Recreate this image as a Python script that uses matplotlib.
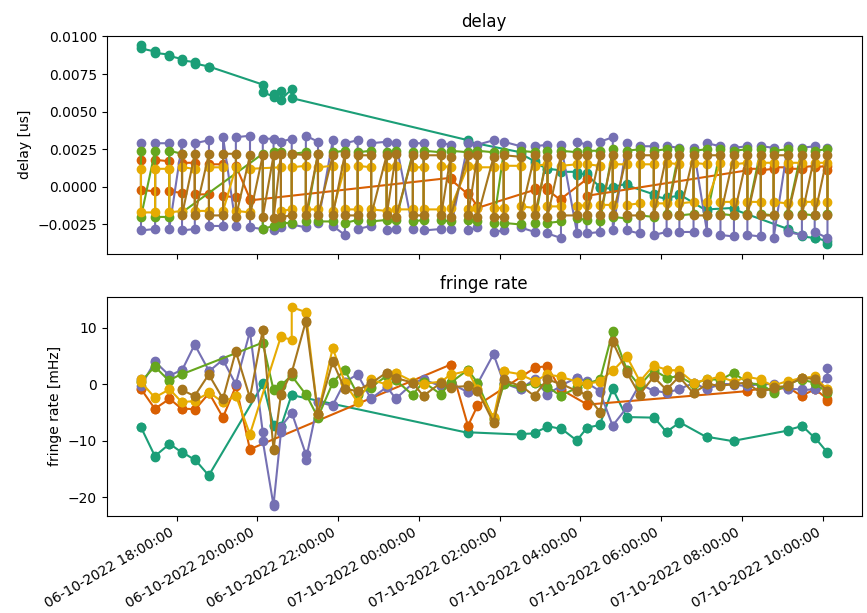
import numpy as np
import pandas as pd
import matplotlib
matplotlib.use("Agg")
import matplotlib.pyplot as plt
import matplotlib.dates as mdates
from matplotlib.ticker import MultipleLocator

# scan times (one per solution interval)
scan_times = pd.to_datetime([
    "2022-10-06 17:07", "2022-10-06 17:28", "2022-10-06 17:49", "2022-10-06 18:08",
    "2022-10-06 18:27", "2022-10-06 18:48", "2022-10-06 19:09", "2022-10-06 19:28",
    "2022-10-06 19:49", "2022-10-06 20:08", "2022-10-06 20:24", "2022-10-06 20:35",
    "2022-10-06 20:51", "2022-10-06 21:12", "2022-10-06 21:30", "2022-10-06 21:52",
    "2022-10-06 22:10", "2022-10-06 22:29", "2022-10-06 22:49", "2022-10-06 23:12",
    "2022-10-06 23:26", "2022-10-06 23:51", "2022-10-07 00:07", "2022-10-07 00:33",
    "2022-10-07 00:47", "2022-10-07 01:13", "2022-10-07 01:27", "2022-10-07 01:51",
    "2022-10-07 02:06", "2022-10-07 02:31", "2022-10-07 02:52", "2022-10-07 03:11",
    "2022-10-07 03:31", "2022-10-07 03:55", "2022-10-07 04:09", "2022-10-07 04:29",
    "2022-10-07 04:48", "2022-10-07 05:09", "2022-10-07 05:28", "2022-10-07 05:49",
    "2022-10-07 06:08", "2022-10-07 06:27", "2022-10-07 06:48", "2022-10-07 07:08",
    "2022-10-07 07:28", "2022-10-07 07:48", "2022-10-07 08:08", "2022-10-07 08:28",
    "2022-10-07 08:47", "2022-10-07 09:08", "2022-10-07 09:29", "2022-10-07 09:48",
    "2022-10-07 10:07",
])

colors = ["#1b9e77", "#d95f02", "#7570b3", "#66a61e", "#e6ab02", "#a6761d"]

# each station: scan indices, then two values per scan (delay [us], fringe rate [mHz])
idx_teal = [0, 1, 2, 3, 4, 5, 9, 10, 11, 12, 25, 29, 30, 31, 32, 33, 34, 35, 36, 37,
            39, 40, 41, 43, 45, 49, 50, 51, 52]
delay_teal = [0.0094, 0.0092, 0.0090, 0.0089, 0.0088, 0.0087, 0.0085, 0.0084, 0.0083, 0.0082,
              0.0080, 0.0080, 0.0068, 0.0063, 0.0060, 0.0062, 0.0064, 0.0058, 0.0065, 0.0059,
              0.0031, 0.0030, 0.0023, 0.0022, 0.0017, 0.0016, 0.0012, 0.0012, 0.0011, 0.0010,
              0.0010, 0.0008, 0.0009, 0.0008, 0.0000, -0.0001, -0.0001, 0.0000, 0.0002, 0.0001,
              -0.0005, -0.0006, -0.0008, -0.0007, -0.0006, -0.0005, -0.0016, -0.0015, -0.0014, -0.0015,
              -0.0028, -0.0029, -0.0032, -0.0033, -0.0034, -0.0034, -0.0036, -0.0038]
fringe_teal = [-7.5, -7.6, -12.8, -12.7, -10.6, -10.5, -12.1, -12.0, -13.4, -13.3,
               -16.2, -16.1, 0.0, 0.2, -7.4, -7.2, -7.4, -7.5, -1.8, -1.9,
               -8.6, -8.5, -8.9, -8.8, -8.7, -8.6, -7.5, -7.4, -7.9, -7.8,
               -10.0, -9.9, -7.8, -7.7, -7.2, -7.1, -0.7, -0.8, -5.9, -5.8,
               -5.9, -5.8, -8.5, -8.4, -6.8, -6.7, -9.4, -9.3, -10.1, -10.0,
               -8.2, -8.1, -7.4, -7.3, -9.5, -9.4, -12.1, -12.0]

idx_orange = [0, 1, 2, 3, 4, 5, 6, 7, 8, 24, 25, 26, 30, 31, 32, 34, 46, 47, 48, 49, 50, 51, 52]
delay_orange = [0.0018, -0.0002, -0.0003, 0.0018, 0.0017, -0.0003, -0.0004, 0.0016, 0.0016, -0.0005,
                -0.0005, 0.0015, 0.0015, -0.0006, -0.0007, 0.0014, -0.0008, -0.0009,
                0.0006, 0.0005, -0.0005, -0.0004, -0.0013, -0.0014,
                -0.0002, -0.0001, 0.0000, -0.0002, -0.0009, -0.0008, 0.0005, -0.0006,
                0.0011, 0.0012, 0.0012, 0.0011, 0.0012, 0.0013, 0.0013, 0.0012, 0.0012, 0.0013,
                0.0014, 0.0013, 0.0014, 0.0011]
fringe_orange = [-0.9, -0.8, -4.4, -4.3, -2.6, -2.5, -4.4, -4.3, -4.4, -4.5,
                 -1.6, -1.5, -5.9, -5.8, -0.3, -0.2, -11.6, -11.5,
                 3.5, 3.4, -7.4, -7.3, -3.8, -3.7,
                 2.9, 3.0, 3.2, 3.1, -1.0, -0.9, -3.5, -3.6,
                 -1.2, -1.1, -0.8, -0.7, -1.0, -0.9, -0.6, -0.5, -2.1, -2.0,
                 -0.9, -0.8, -2.6, -2.9]

idx_purple = list(range(53))
delay_purple = [0.0029, -0.0029, -0.0028, 0.0029, 0.0029, -0.0028, 0.0029, -0.0029, -0.0028, 0.0029,
                0.0031, -0.0026, -0.0026, 0.0033, -0.0026, 0.0033, 0.0034, -0.0027, -0.0028, 0.0032,
                0.0032, -0.0029, -0.0027, 0.0030, 0.0032, -0.0025, -0.0027, 0.0034, 0.0030, -0.0024,
                0.0031, -0.0026, -0.0032, 0.0029, 0.0031, -0.0028, -0.0026, 0.0029, 0.0030, -0.0029,
                -0.0028, 0.0029, -0.0028, 0.0029, 0.0029, -0.0029, -0.0028, 0.0029, 0.0028, -0.0028,
                0.0029, -0.0029, -0.0027, 0.0028, 0.0031, -0.0030, -0.0029, 0.0030, 0.0027, -0.0027,
                -0.0030, 0.0027, 0.0028, -0.0031, -0.0034, 0.0028, -0.0031, 0.0030, 0.0028, -0.0031,
                -0.0030, 0.0030, 0.0033, -0.0029, 0.0029, -0.0029, -0.0031, 0.0027, 0.0027, -0.0032,
                -0.0030, 0.0027, 0.0026, -0.0030, -0.0030, 0.0026, -0.0030, 0.0029, 0.0027, -0.0032,
                -0.0033, 0.0026, 0.0027, -0.0032, -0.0033, 0.0027, 0.0026, -0.0034, 0.0027, -0.0030,
                -0.0032, 0.0026, 0.0027, -0.0030, -0.0034, 0.0026]
fringe_purple = [0.9, -0.3, 4.1, 4.0, 1.6, 1.5, 2.6, 2.5, 7.1, 7.0,
                 2.4, 2.3, 4.4, 4.3, 0.0, 0.1, 9.4, 9.3, -8.5, -10.0,
                 -21.5, -21.3, -8.5, -7.5, -5.1, -5.0, -12.4, -13.4, -3.2, -3.1,
                 -3.8, -3.7, 0.5, 0.4, 1.8, 1.7, -2.6, -2.5, -0.5, -0.4,
                 -2.6, -2.5, 0.2, 0.3, 0.9, 0.8, -0.3, -0.2, 0.3, 0.2,
                 -1.4, -1.3, 0.0, 0.1, 5.4, 5.3, 0.3, 0.2, -0.9, -0.8,
                 0.9, 0.8, -1.8, -1.7, -0.3, -0.2, 1.2, 1.1, 0.6, 0.3,
                 -1.2, -1.4, -7.4, -7.3, -4.1, -4.0, 0.0, 0.1, -1.2, -1.1,
                 -1.5, -1.4, -0.9, -0.8, 0.2, 0.3, -0.9, -0.8, 0.0, 0.1,
                 0.0, -0.1, -0.3, -0.2, 0.0, 0.1, 0.0, -0.1, -0.9, -0.8,
                 -0.9, -1.0, -0.9, -0.8, 1.2, 2.9]

idx_green = [0, 1, 2, 3] + list(range(9, 53))
delay_green = [0.0024, -0.0020, 0.0024, -0.0020, -0.0020, 0.0024, 0.0022, -0.0017,
               0.0022, -0.0028, -0.0026, 0.0023, 0.0023, -0.0024, -0.0024, 0.0022, 0.0023, -0.0023,
               0.0022, -0.0023, -0.0023, 0.0023, 0.0024, -0.0024, -0.0022, 0.0023, 0.0024, -0.0023,
               -0.0022, 0.0023, 0.0024, -0.0022, 0.0023, -0.0023, -0.0022, 0.0024, 0.0023, -0.0022,
               -0.0023, 0.0024, 0.0023, -0.0022, -0.0023, 0.0024, 0.0023, -0.0024, 0.0023, -0.0024,
               -0.0025, 0.0024, 0.0023, -0.0024, 0.0024, -0.0024, -0.0023, 0.0024, 0.0023, -0.0021,
               -0.0022, 0.0024, 0.0024, -0.0023, 0.0025, -0.0020, -0.0021, 0.0024, 0.0025, -0.0019,
               -0.0020, 0.0024, 0.0025, -0.0018, 0.0025, -0.0019, -0.0018, 0.0024, 0.0025, -0.0019,
               0.0025, -0.0018, -0.0019, 0.0024, 0.0025, -0.0018, 0.0025, -0.0018, -0.0019, 0.0024,
               0.0025, -0.0018, 0.0025, -0.0018, -0.0019, 0.0024, 0.0025, -0.0018]
fringe_green = [0.6, 0.5, 3.2, 3.1, 0.6, 0.7, 1.9, 1.8,
                7.4, 7.3, -1.0, -0.9, -0.3, -0.2, 1.6, 1.5, -1.8, -1.7,
                -5.9, -5.8, 0.3, 0.4, 2.6, 2.5, -1.8, -1.7, -0.6, -0.5,
                1.5, 1.4, 0.8, 0.7, -1.9, -1.8, 0.5, 0.4, -1.8, -1.7,
                0.4, 0.3, 2.6, 2.5, 0.3, 0.2, -6.2, -6.1, 0.0, 0.1,
                -0.5, -0.4, 0.2, 0.3, -0.5, -0.4, -2.1, -2.0, -0.6, -0.5,
                0.2, 0.1, 0.9, 0.8, 9.4, 9.3, 2.6, 2.5, -0.3, -0.2,
                2.6, 2.5, 1.2, 1.1, 1.5, 1.4, 0.0, 0.1, 0.9, 0.8,
                0.9, 0.8, 2.1, 2.0, 0.3, 0.2, 0.0, 0.1, -1.5, -1.4,
                0.0, 0.1, 0.9, 0.8, 0.3, 0.2, -1.5, -1.4]

idx_yellow = list(range(0, 9)) + list(range(11, 53))
delay_yellow = [0.0012, -0.0017, -0.0017, 0.0012, 0.0012, -0.0017, -0.0016, 0.0013, 0.0012, -0.0016,
                -0.0016, 0.0013, 0.0013, -0.0016, 0.0013, -0.0016, -0.0017, 0.0012,
                0.0013, -0.0016, -0.0015, 0.0013, 0.0014, -0.0015, -0.0015, 0.0013, 0.0014, -0.0016,
                0.0013, -0.0015, -0.0015, 0.0014, 0.0013, -0.0015, -0.0016, 0.0013, 0.0014, -0.0015,
                -0.0015, 0.0013, 0.0013, -0.0015, -0.0015, 0.0014, 0.0013, -0.0014, 0.0014, -0.0015,
                -0.0014, 0.0013, 0.0013, -0.0014, -0.0014, 0.0014, 0.0014, -0.0013, -0.0014, 0.0014,
                0.0015, -0.0013, -0.0013, 0.0014, 0.0015, -0.0013, -0.0012, 0.0015, 0.0014, -0.0012,
                -0.0012, 0.0015, 0.0015, -0.0012, -0.0011, 0.0015, 0.0015, -0.0011, -0.0011, 0.0016,
                0.0015, -0.0011, -0.0010, 0.0016, 0.0015, -0.0010, 0.0016, -0.0010, -0.0010, 0.0015,
                0.0016, -0.0010, -0.0010, 0.0016, 0.0016, -0.0010, -0.0011, 0.0016, 0.0016, -0.0010,
                -0.0010, 0.0016, 0.0016, -0.0010]
fringe_yellow = [0.9, 0.4, -2.4, -2.3, -0.9, -0.8, -3.2, -3.1, -3.0, -2.9,
                 -1.5, -1.4, -3.2, -3.1, -2.1, -2.0, -8.9, -8.8,
                 8.5, 8.4, 7.9, 13.7, 12.8, 12.7, -5.3, -5.2, 6.5, 6.4,
                 0.3, 0.2, -3.2, -3.1, 0.9, 0.8, 0.0, 0.1, 2.1, 2.0,
                 0.5, 0.4, 0.0, 0.1, 0.5, 0.4, 1.8, 1.7, 2.4, 2.3,
                 -0.9, -0.8, -5.9, -5.8, 2.4, 2.3, 1.8, 1.7, 0.6, 0.5,
                 1.8, 1.7, 1.4, 1.3, 0.5, 0.4, 0.0, 0.1, 0.5, 0.6,
                 2.5, 2.4, 5.0, 4.9, 0.6, 0.5, 3.4, 3.3, 2.6, 2.5,
                 2.5, 2.4, 0.3, 0.2, 0.9, 0.8, 1.4, 1.3, 0.5, 0.4,
                 1.4, 1.3, 0.9, 0.8, -0.3, -0.2, 0.6, 0.5, 1.2, 1.1,
                 1.4, 1.3, -0.9, -0.8]

idx_brown = list(range(3, 53))
delay_brown = [0.0022, -0.0019, 0.0022, -0.0019, 0.0022, -0.0019, -0.0019, 0.0022, 0.0022, -0.0020,
               0.0021, -0.0019, 0.0021, -0.0020, 0.0021, -0.0021, 0.0022, -0.0020, -0.0019, 0.0022,
               0.0021, -0.0019, 0.0022, -0.0019, 0.0021, -0.0019, 0.0022, -0.0019, -0.0019, 0.0021,
               0.0021, -0.0019, 0.0021, -0.0019, 0.0022, -0.0020, 0.0021, -0.0019, -0.0019, 0.0021,
               0.0021, -0.0019, 0.0020, -0.0020, 0.0021, -0.0019, 0.0021, -0.0020, 0.0020, -0.0020,
               -0.0020, 0.0021, 0.0020, -0.0019, 0.0021, -0.0019, 0.0020, -0.0020, 0.0021, -0.0019,
               -0.0019, 0.0021, 0.0021, -0.0019, 0.0021, -0.0019, 0.0021, -0.0019, 0.0021, -0.0019,
               -0.0019, 0.0021, 0.0021, -0.0019, 0.0021, -0.0019, 0.0021, -0.0019, 0.0021, -0.0019,
               -0.0019, 0.0021, 0.0021, -0.0019, 0.0021, -0.0019, 0.0021, -0.0019, 0.0021, -0.0019,
               -0.0019, 0.0021, 0.0021, -0.0019, 0.0021, -0.0019, 0.0021, -0.0019, 0.0021, -0.0019]
fringe_brown = [-0.9, -1.0, -2.1, -2.0, 1.8, 1.7, -2.6, -2.5, 5.9, 5.8,
                -2.4, -2.3, 9.7, 9.6, -11.6, -11.5, -1.8, -1.7, 2.2, 2.1,
                11.2, 11.1, -5.3, -5.2, 4.1, 4.0, -0.9, -0.8, -1.2, -1.1,
                0.3, 0.2, 2.1, 2.0, 1.2, 1.1, 0.3, 0.2, -2.1, -2.0,
                0.3, 0.2, -0.6, -0.5, -0.3, -0.2, -1.2, -1.1, -6.8, -6.7,
                0.9, 0.8, -0.3, -0.2, -2.1, -2.0, 1.0, 0.9, 0.0, 0.1,
                -1.2, -1.1, -1.9, -1.8, -4.9, -5.0, 7.6, 7.5, 2.2, 2.1,
                -1.9, -1.8, 1.4, 1.3, -1.0, -0.9, 1.4, 1.3, -1.6, -1.5,
                0.0, 0.1, -0.3, -0.2, 0.0, 0.1, 0.3, 0.2, -1.5, -1.4,
                -0.6, -0.5, -0.3, -0.2, 1.2, 1.1, 1.0, 0.9, -1.2, -1.1]

stations = [
    (idx_teal, delay_teal, fringe_teal),
    (idx_orange, delay_orange, fringe_orange),
    (idx_purple, delay_purple, fringe_purple),
    (idx_green, delay_green, fringe_green),
    (idx_yellow, delay_yellow, fringe_yellow),
    (idx_brown, delay_brown, fringe_brown),
]

fig, (ax1, ax2) = plt.subplots(2, 1, sharex=True, figsize=(8.67, 6.13), dpi=100)

for (idx, delay, fringe), c in zip(stations, colors):
    t = scan_times[np.repeat(idx, 2)]
    ax1.plot(t, delay, "o-", color=c)
    ax2.plot(t, fringe, "o-", color=c)

ax1.set_title("delay")
ax1.set_ylabel("delay [us]")
ax1.yaxis.set_major_locator(MultipleLocator(0.0025))
ax2.set_title("fringe rate")
ax2.set_ylabel("fringe rate [mHz]")
ax2.yaxis.set_major_locator(MultipleLocator(10))

ax2.xaxis.set_major_locator(mdates.HourLocator(byhour=range(0, 24, 2)))
ax2.xaxis.set_major_formatter(mdates.DateFormatter("%d-%m-%Y %H:%M:%S"))
fig.autofmt_xdate()

fig.subplots_adjust(left=0.123, right=0.994, top=0.942, bottom=0.159, hspace=0.198)
fig.savefig("out.png")
